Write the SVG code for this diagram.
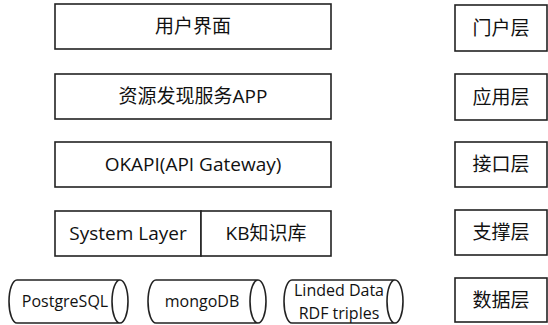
<svg xmlns="http://www.w3.org/2000/svg" width="548" height="325" viewBox="0 0 548 325">
<style>
.b{fill:#fff;stroke:#222;stroke-width:1.6}
.t{font-family:"Open Sans","Noto Sans CJK SC",sans-serif;font-size:19px;fill:#111;text-anchor:middle;dominant-baseline:central}
.c{font-size:16px}
</style>
<rect width="548" height="325" fill="#fff"/>
<g id="ui"><rect class="b" x="55" y="4" width="276" height="45"/><text class="t" x="193" y="26">用户界面</text></g>
<g id="app"><rect class="b" x="55" y="74" width="276" height="45"/><text class="t" x="193" y="96">资源发现服务APP</text></g>
<g id="okapi"><rect class="b" x="55" y="142" width="276" height="45"/><text class="t" x="193" y="164">OKAPI(API Gateway)</text></g>
<g id="system"><rect class="b" x="55" y="211" width="146" height="45"/><text class="t" x="128" y="233">System Layer</text></g>
<g id="kb"><rect class="b" x="201" y="211" width="130" height="45"/><text class="t" x="266" y="233">KB知识库</text></g>
<g id="pg"><path class="b" d="M17,280 L120,280 A8,21.5 0 0 1 120,323 L17,323 A8,21.5 0 0 1 17,280 Z M120,280 A8,21.5 0 0 0 120,323"/><text class="t c" x="65" y="301">PostgreSQL</text></g>
<g id="mongo"><path class="b" d="M156,280 L258,280 A8,21.5 0 0 1 258,323 L156,323 A8,21.5 0 0 1 156,280 Z M258,280 A8,21.5 0 0 0 258,323"/><text class="t c" x="202" y="301">mongoDB</text></g>
<g id="rdf"><path class="b" d="M292,280 L395,280 A8,21.5 0 0 1 395,323 L292,323 A8,21.5 0 0 1 292,280 Z M395,280 A8,21.5 0 0 0 395,323"/><text class="t c" x="339" y="290">Linded Data</text><text class="t c" x="339" y="313">RDF triples</text></g>
<g id="l1"><rect class="b" x="455" y="5" width="92" height="46"/><text class="t" x="501" y="28">门户层</text></g>
<g id="l2"><rect class="b" x="455" y="74" width="92" height="46"/><text class="t" x="501" y="97">应用层</text></g>
<g id="l3"><rect class="b" x="455" y="142" width="92" height="45"/><text class="t" x="501" y="164">接口层</text></g>
<g id="l4"><rect class="b" x="455" y="210" width="92" height="45"/><text class="t" x="501" y="232">支撑层</text></g>
<g id="l5"><rect class="b" x="455" y="278" width="92" height="44"/><text class="t" x="501" y="300">数据层</text></g>
<g id="connectors"></g>
</svg>
